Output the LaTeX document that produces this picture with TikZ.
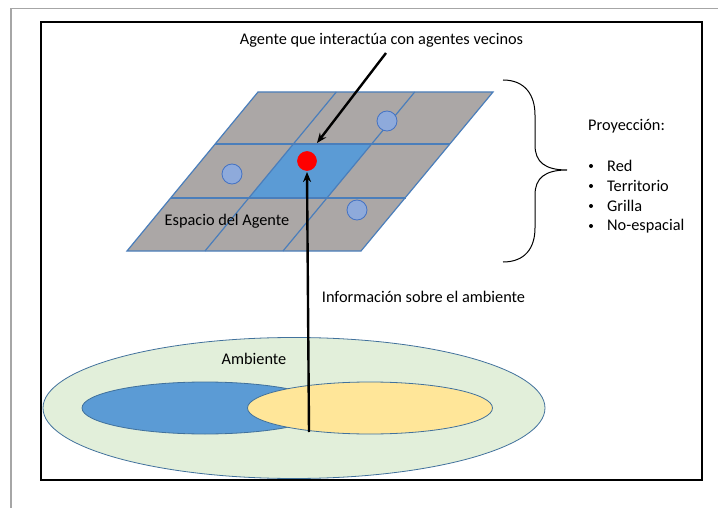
\documentclass[tikz,border=0pt]{standalone}
\usepackage{fontspec}
\setmainfont{Carlito}
\usetikzlibrary{arrows.meta,shapes.geometric}
\definecolor{gridgray}{HTML}{ABA7A6}
\definecolor{gridline}{HTML}{4A7EBB}
\definecolor{cellblue}{HTML}{5B9BD5}
\definecolor{dotblue}{HTML}{8EAADB}
\definecolor{dotedge}{HTML}{4472C4}
\definecolor{envgreen}{HTML}{E2EFDA}
\definecolor{envedge}{HTML}{41719C}
\definecolor{envyellow}{HTML}{FFE699}
\definecolor{framegray}{HTML}{A6A6A6}
\tikzset{
  lbl/.style={font=\fontsize{16.3}{19}\selectfont, inner sep=0pt},
  nbr/.style={circle, draw=dotedge, fill=dotblue, line width=0.8pt, minimum size=20pt, inner sep=0pt},
  agentdot/.style={circle, draw=red, fill=red, line width=0.6pt, minimum size=19pt, inner sep=0pt},
  bigarrow/.style={line width=2.4pt, -{Stealth[length=10pt,width=8pt]}},
  env/.style={ellipse, draw=envedge, line width=0.8pt, inner sep=0pt},
  gline/.style={gridline, line width=1.2pt},
  bulletdot/.style={circle, fill=black, inner sep=0pt, minimum size=4pt},
}
\begin{document}
\begin{tikzpicture}[x=1pt,y=-1pt]
\useasboundingbox (0,0) rectangle (718,508);
% frames
\draw[framegray, line width=1.5pt] (11,508) -- (11,8.5) -- (718,8.5);
\draw[black, line width=1.2pt] (41,22) rectangle (702,480);
% grid
\fill[gridgray] (258,92) -- (493,92) -- (361,251) -- (127,251) -- cycle;
\fill[cellblue] (293.4,144) -- (371.8,144) -- (327.2,198) -- (248.8,198) -- cycle;
\draw[gline] (258,92) -- (493,92) -- (361,251) -- (127,251) -- cycle;
\draw[gline] (215.2,144) -- (450.1,144);
\draw[gline] (170.5,198) -- (405.5,198);
\draw[gline] (336.3,92) -- (205,251);
\draw[gline] (414.7,92) -- (283,251);
% neighbours
\node[nbr] (n1) at (387,121) {};
\node[nbr] (n2) at (232,174) {};
\node[nbr] (n3) at (357,210) {};
\node[agentdot] (agent) at (307,161) {};
% labels
\node[lbl] (title) at (381.5,40) {Agente que interactúa con agentes vecinos};
\node[lbl] (espacio) at (227,221) {Espacio del Agente};
\node[lbl] (info) at (423.5,297) {Información sobre el ambiente};
% environment
\node[env, fill=envgreen, minimum width=502pt, minimum height=141pt] (envout) at (294,408) {};
\node[env, fill=cellblue, minimum width=246pt, minimum height=52pt] (envblue) at (205,408) {};
\node[env, fill=envyellow, minimum width=245pt, minimum height=52pt] (envyel) at (370,408) {};
\node[lbl] (amb) at (254,359) {Ambiente};
% arrows
\coordinate (a1s) at (386,53);
\coordinate (a1e) at (317,143);
\draw[bigarrow] (a1s) -- (a1e);
\coordinate (a2s) at (309,432);
\coordinate (a2e) at (307,172);
\draw[bigarrow] (a2s) -- (a2e);
% brace
\draw[black, line width=1pt] (503,80) .. controls (525,80) and (535,95) .. (535,115) -- (535,145) .. controls (535,162) and (545,170) .. (567,170) .. controls (545,170) and (535,178) .. (535,195) -- (535,228) .. controls (535,248) and (525,262) .. (503,262);
% projection list
\node[lbl, anchor=west] (proy) at (588,126) {Proyección:};
\foreach \y/\t/\n in {166/Red/r1,186/Territorio/r2,206/Grilla/r3,226/No-espacial/r4}{
  \node[bulletdot] (b\n) at (591,\y) {};
  \node[lbl, anchor=west] (\n) at (607,\y) {\t};
}
\end{tikzpicture}
\end{document}
